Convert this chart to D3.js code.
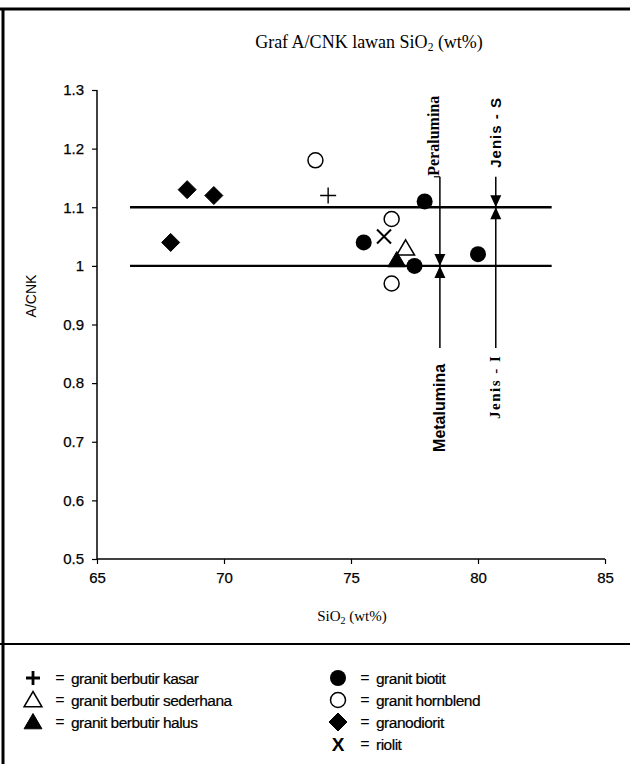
<!DOCTYPE html>
<html>
<head>
<meta charset="utf-8">
<script src="https://cdn.jsdelivr.net/npm/d3@7"></script>
<style>
  html, body { margin: 0; padding: 0; background: #fff; }
  svg { display: block; }
  .tick text { font-family: Arial, "Liberation Sans", sans-serif; font-size: 15px; fill: #000; }
</style>
</head>
<body>
<svg id="chart" width="630" height="764"></svg>
<script>
// Rock groups (legend order) and their A/CNK vs SiO2 measurements
const groupNames = [
  "granit berbutir kasar", "granit berbutir sederhana", "granit berbutir halus",
  "granit biotit", "granit hornblend", "granodiorit", "riolit"
];
const kasarSiO2 = [74.1];             const kasarACNK = [1.12];
const sederhanaSiO2 = [77.15];        const sederhanaACNK = [1.03];
const halusSiO2 = [76.8];             const halusACNK = [1.01];
const biotitSiO2 = [75.5, 77.9, 77.5, 80.0];
const biotitACNK = [1.04, 1.11, 1.00, 1.02];
const hornblendSiO2 = [73.6, 76.6, 76.6];
const hornblendACNK = [1.18, 1.08, 0.97];
const granodioritSiO2 = [67.9, 68.55, 69.6];
const granodioritACNK = [1.04, 1.13, 1.12];
const riolitSiO2 = [76.3];            const riolitACNK = [1.05];

// Axis ticks
const xTicks = [65, 70, 75, 80, 85];
const yTicks = [0.5, 0.6, 0.7, 0.8, 0.9, 1, 1.1, 1.2, 1.3];

// Classification boundaries
const acnkBoundaries = [1.0, 1.1];           // metaluminous / peraluminous, I / S type
const boundarySiO2Span = [66.3, 82.9];
const dividerSiO2 = [78.5, 80.7];            // vertical pointer lines
const dividerACNKSpan = [0.86, 1.152];
const pointerLabels = [
  { top: "Peralumina", bottom: "Metalumina", at: 1.0 },
  { top: "Jenis - S", bottom: "Jenis - I", at: 1.1 }
];

const svg = d3.select("#chart");
const W = 630, H = 764;

const x = d3.scaleLinear().domain([65, 85]).range([97, 605]);
const y = d3.scaleLinear().domain([0.5, 1.3]).range([559, 90]);

// Outer frame: top rule, left rule and the divider above the legend
svg.append("line").attr("x1", 0).attr("x2", W).attr("y1", 9).attr("y2", 9)
  .attr("stroke", "#000").attr("stroke-width", 3);
svg.append("line").attr("x1", 3).attr("x2", 3).attr("y1", 8).attr("y2", H)
  .attr("stroke", "#000").attr("stroke-width", 3);
svg.append("line").attr("x1", 0).attr("x2", W).attr("y1", 644).attr("y2", 644)
  .attr("stroke", "#000").attr("stroke-width", 2);

// Title
const serif = "'Liberation Serif', 'Times New Roman', serif";
const sans = "Arial, 'Liberation Sans', sans-serif";
const title = svg.append("text").attr("x", 369).attr("y", 48)
  .attr("text-anchor", "middle")
  .attr("font-family", serif).attr("font-size", 18).attr("fill", "#000");
title.append("tspan").text("Graf A/CNK lawan SiO");
title.append("tspan").attr("font-size", 11.5).attr("dy", 3).text("2");
title.append("tspan").attr("dy", -3).text(" (wt%)");

// Axes
const xAxis = d3.axisBottom(x).tickValues(xTicks).tickSize(5).tickPadding(8)
  .tickFormat(d3.format("d"));
const yAxis = d3.axisLeft(y).tickValues(yTicks).tickSize(5).tickPadding(8)
  .tickFormat(d => d3.format("~g")(d));

const gx = svg.append("g").attr("transform", `translate(0,${y(0.5)})`).call(xAxis);
const gy = svg.append("g").attr("transform", `translate(${x(65)},0)`).call(yAxis);
[gx, gy].forEach(g => {
  g.select(".domain").attr("stroke", "#000").attr("stroke-width", 1.5);
  g.selectAll(".tick line").attr("stroke", "#000").attr("stroke-width", 1.2);
  g.selectAll(".tick text").attr("stroke", "#000").attr("stroke-width", 0.25);
});
gx.select(".domain").attr("d", `M${x(65)},0H${x(85)}`);
gy.select(".domain").attr("d", `M0,${y(1.3)}V${y(0.5)}`);

// Axis titles
const xt = svg.append("text").attr("x", 352).attr("y", 621).attr("text-anchor", "middle")
  .attr("font-family", serif).attr("font-size", 15).attr("fill", "#000");
xt.append("tspan").text("SiO");
xt.append("tspan").attr("font-size", 10).attr("dy", 3).text("2");
xt.append("tspan").attr("dy", -3).text(" (wt%)");

svg.append("text")
  .attr("transform", `translate(36,296) rotate(-90)`)
  .attr("text-anchor", "middle")
  .attr("font-family", sans).attr("font-size", 14).attr("fill", "#000").text("A/CNK");

// Horizontal classification lines
svg.append("g").selectAll("line").data(acnkBoundaries).join("line")
  .attr("x1", x(boundarySiO2Span[0])).attr("x2", x(boundarySiO2Span[1]))
  .attr("y1", d => y(d)).attr("y2", d => y(d))
  .attr("stroke", "#000").attr("stroke-width", 2.4);

// Vertical pointer lines with arrowheads meeting at a boundary
const pointers = dividerSiO2.map((s, i) => ({ s, ...pointerLabels[i] }));
const pg = svg.append("g");
pointers.forEach((p, i) => {
  const px = x(p.s);
  pg.append("line").attr("x1", px).attr("x2", px)
    .attr("y1", y(dividerACNKSpan[1])).attr("y2", y(dividerACNKSpan[0]))
    .attr("stroke", "#000").attr("stroke-width", 1.5);
  const yb = y(p.at);
  // down-pointing head above the line, up-pointing head below it
  pg.append("path").attr("d", `M${px - 5.5},${yb - 12}L${px + 5.5},${yb - 12}L${px},${yb}Z`).attr("fill", "#000");
  pg.append("path").attr("d", `M${px - 5.5},${yb + 12}L${px + 5.5},${yb + 12}L${px},${yb}Z`).attr("fill", "#000");
  if (i === 0) {
    pg.append("line").attr("x1", px - 6).attr("x2", px)
      .attr("y1", y(dividerACNKSpan[1])).attr("y2", y(dividerACNKSpan[1]))
      .attr("stroke", "#000").attr("stroke-width", 1.2);
  }
});

// Rotated pointer labels
function vLabel(px, py, txt, family, size, spacing) {
  svg.append("text")
    .attr("transform", `translate(${px},${py}) rotate(-90)`)
    .attr("font-family", family).attr("font-weight", "bold")
    .attr("letter-spacing", spacing)
    .attr("font-size", size).attr("fill", "#000").text(txt);
}
vLabel(x(dividerSiO2[0]) - 0.5, y(dividerACNKSpan[1]) - 1, pointers[0].top, serif, 16, 0);
vLabel(x(dividerSiO2[0]) + 5, y(dividerACNKSpan[0]) + 104, pointers[0].bottom, sans, 16, 0);
vLabel(x(dividerSiO2[1]) + 5, y(dividerACNKSpan[1]) - 9, pointers[1].top, sans, 15, 1);
vLabel(x(dividerSiO2[1]) + 4, y(dividerACNKSpan[0]) + 71, pointers[1].bottom, serif, 15, 1.5);

// Marker shapes
function markerPath(kind, s) {
  switch (kind) {
    case "plus": return `M${-s},0H${s}M0,${-s}V${s}`;
    case "cross": return `M${-s},${-s}L${s},${s}M${-s},${s}L${s},${-s}`;
    case "diamond": return `M0,${-s}L${s},0L0,${s}L${-s},0Z`;
    case "triangle": return `M0,${-s}L${s * 1.05},${s * 0.8}L${-s * 1.05},${s * 0.8}Z`;
  }
}
const styles = [
  { kind: "plus", s: 8, fill: "none", stroke: "#000", sw: 1.4 },
  { kind: "triangle", s: 8.5, fill: "#fff", stroke: "#000", sw: 1.5 },
  { kind: "triangle", s: 8.5, fill: "#000", stroke: "#000", sw: 1 },
  { kind: "circle", r: 8, fill: "#000", stroke: "none", sw: 0 },
  { kind: "circle", r: 7.5, fill: "#fff", stroke: "#000", sw: 1.5 },
  { kind: "diamond", s: 9, fill: "#000", stroke: "#000", sw: 1 },
  { kind: "cross", s: 7, fill: "none", stroke: "#000", sw: 2 }
];
const seriesX = [kasarSiO2, sederhanaSiO2, halusSiO2, biotitSiO2, hornblendSiO2, granodioritSiO2, riolitSiO2];
const seriesY = [kasarACNK, sederhanaACNK, halusACNK, biotitACNK, hornblendACNK, granodioritACNK, riolitACNK];

function drawMarker(g, st) {
  if (st.kind === "circle") {
    return g.append("circle").attr("r", st.r).attr("fill", st.fill)
      .attr("stroke", st.stroke).attr("stroke-width", st.sw);
  }
  return g.append("path").attr("d", markerPath(st.kind, st.s))
    .attr("fill", st.fill).attr("stroke", st.stroke).attr("stroke-width", st.sw)
    .attr("stroke-linejoin", "miter");
}

// Draw order: open circles behind, then the rest
const order = [4, 5, 0, 6, 1, 2, 3];
order.forEach(i => {
  const g = svg.append("g");
  seriesX[i].forEach((sx, j) => {
    const mg = g.append("g").attr("transform", `translate(${x(sx)},${y(seriesY[i][j])})`);
    drawMarker(mg, styles[i]);
  });
});

// Legend
const leftCol = [0, 1, 2], rightCol = [3, 4, 5, 6];
const rowY = [678, 700, 722, 744];
function legendRow(i, cx, row) {
  const cy = rowY[row];
  const g = svg.append("g").attr("transform", `translate(${cx},${cy})`);
  if (i === 6) {
    g.append("text").attr("y", 7).attr("text-anchor", "middle")
      .attr("font-family", sans).attr("font-weight", "bold")
      .attr("font-size", 19).attr("fill", "#000").text("X");
  } else if (i === 0) {
    g.append("path").attr("d", markerPath("plus", 7)).attr("stroke", "#000").attr("stroke-width", 2.8);
  } else {
    drawMarker(g, styles[i]);
  }
  svg.append("text").attr("x", cx + 27).attr("y", cy + 5).attr("text-anchor", "middle")
    .attr("font-family", sans).attr("font-size", 16).attr("fill", "#000").text("=");
  svg.append("text").attr("x", cx + 38).attr("y", cy + 5.5)
    .attr("font-family", sans).attr("font-size", 15.5).attr("fill", "#000")
    .attr("stroke", "#000").attr("stroke-width", 0.2)
    .attr("letter-spacing", -0.5).text(groupNames[i]);
}
leftCol.forEach((i, r) => legendRow(i, 33, r));
rightCol.forEach((i, r) => legendRow(i, 338, r));
</script>
</body>
</html>
